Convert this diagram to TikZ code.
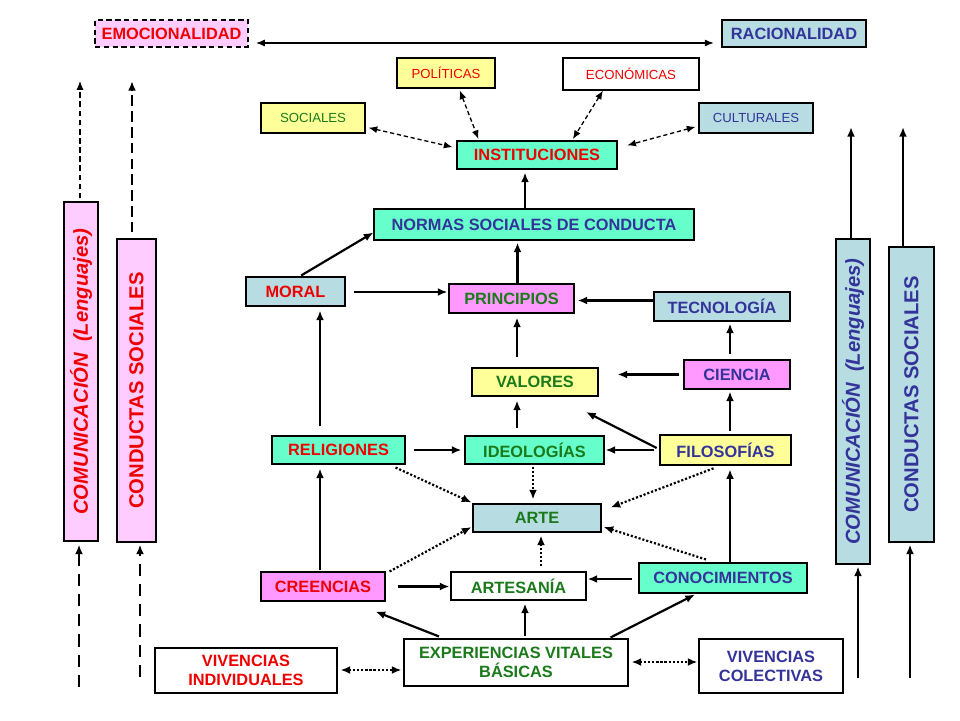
\documentclass[tikz,border=0pt]{standalone}
\usepackage{fontspec}
\setmainfont{Liberation Sans}
\usetikzlibrary{positioning}
\usetikzlibrary{arrows.meta}
\usetikzlibrary{calc}
\definecolor{fillyellow}{HTML}{FFFF99}
\definecolor{fillpink}{HTML}{FF99FF}
\definecolor{fillpinkl}{HTML}{FFCCFF}
\definecolor{fillaqua}{HTML}{66FFCC}
\definecolor{fillblue}{HTML}{B7DDE3}
\definecolor{txtred}{HTML}{EE0000}
\definecolor{txtgreen}{HTML}{1A7A1A}
\definecolor{txtblue}{HTML}{333399}
\tikzset{
    cell/.style = {rectangle, draw=black, line width=0.6pt, inner sep=1pt, align=center, font=\fontsize{9.3}{10.8}\selectfont\bfseries},
    celly/.style = {cell, fill=fillyellow},
    cellp/.style = {cell, fill=fillpink},
    celll/.style = {cell, fill=fillpinkl},
    cella/.style = {cell, fill=fillaqua},
    cellb/.style = {cell, fill=fillblue},
    cellw/.style = {cell, fill=white},
    cellsm/.style = {font=\fontsize{7.5}{9}\selectfont}, % top labels
    cellside/.style = {rotate=90, font=\fontsize{11.5}{13}\selectfont\bfseries},
    sz/.style 2 args = {minimum width=#1*0.02cm, minimum height=#2*0.02cm},
    tred/.style = {text=txtred},
    tgreen/.style = {text=txtgreen},
    tblue/.style = {text=txtblue},
    edgen/.style = {-{Latex[length=5.5pt,width=4.5pt]}, line width=1.25pt},
    edgexd/.style = {edgen, dash pattern=on 1.2pt off 1.1pt}, % dotted
    edgevd/.style = {edgexd, {Latex[length=5.5pt,width=4.5pt]}-{Latex[length=5.5pt,width=4.5pt]}}, % dotted, both ways
    edgegd/.style = {{Latex[length=5pt,width=4pt]}-{Latex[length=5pt,width=4pt]}, line width=0.75pt, dash pattern=on 2.4pt off 1.6pt}, % dashed, both ways
    edgeg/.style = {{Latex[length=5pt,width=4pt]}-{Latex[length=5pt,width=4pt]}, line width=0.65pt},
    edgeld/.style = {-{Latex[length=5pt,width=4pt]}, line width=0.65pt, dash pattern=on 3.2pt off 2pt}, % thin dashes
    edgelD/.style = {-{Latex[length=5.5pt,width=4.5pt]}, line width=1.3pt, dash pattern=on 6pt off 3pt}, % long dashes
    edgelo/.style = {-{Latex[length=5.5pt,width=4.5pt]}, line width=1.3pt, dash pattern=on 7pt off 4.5pt}, % lower dashes
}

\begin{document}
\begin{tikzpicture}[x=0.02cm, y=-0.02cm]
\useasboundingbox (0,0) rectangle (960,720);
%
\node[celll, tred, sz={153}{27}, line width=1.2pt, dash pattern=on 3pt off 2pt] at (171.5,33.5) (emo) {EMOCIONALIDAD};
\node[cellb, tblue, sz={144}{27}, line width=1.5pt] at (794,33.5) (rac) {RACIONALIDAD};
\node[celly, tred, cellsm, sz={98}{30}] at (446,73) (pol) {POLÍTICAS};
\node[cellw, tred, cellsm, sz={136}{32}] at (631,74) (eco) {ECONÓMICAS};
\node[celly, tgreen, cellsm, sz={104}{30}] at (313,118) (soc) {SOCIALES};
\node[cellb, tblue, cellsm, sz={114}{30}] at (756,118) (cul) {CULTURALES};
\node[cella, tred, sz={160}{28}] at (537,155) (inst) {INSTITUCIONES};
\node[cella, tblue, sz={320}{31}] at (534,224.5) (norm) {NORMAS SOCIALES DE CONDUCTA};
\node[cellb, tred, sz={99}{29}] at (295.5,291.5) (moral) {MORAL};
\node[cellp, tgreen, sz={125}{29}] at (511.5,298.5) (prin) {PRINCIPIOS};
\node[cellb, tblue, sz={136}{29}] at (722,306.5) (tec) {TECNOLOGÍA};
\node[celly, tgreen, sz={126}{28}] at (535,382) (val) {VALORES};
\node[cellp, tblue, sz={106}{29}] at (737,374.5) (cie) {CIENCIA};
\node[cella, tred, sz={133}{28}] at (338.5,450) (rel) {RELIGIONES};
\node[cella, tgreen, sz={139}{28}] at (534.5,450) (ideo) {IDEOLOGÍAS};
\node[celly, tblue, sz={131}{30}, line width=1.5pt] at (725.5,450) (filo) {FILOSOFÍAS};
\node[cellb, tgreen, sz={128}{28}] at (537,518) (arte) {ARTE};
\node[cellp, tred, sz={124}{29}] at (323,586.5) (cree) {CREENCIAS};
\node[cellw, tgreen, sz={135}{28}] at (518.5,586) (artes) {ARTESANÍA};
\node[cella, tblue, sz={168}{30}] at (723,578) (cono) {CONOCIMIENTOS};
\node[cellw, tgreen, sz={224}{47}] at (516,662.5) (exp) {EXPERIENCIAS VITALES\\BÁSICAS};
\node[cellw, tred, sz={182}{45}] at (246,670.5) (vind) {VIVENCIAS\\INDIVIDUALES};
\node[cellw, tblue, sz={144}{54}] at (771,666) (vcol) {VIVENCIAS\\COLECTIVAS};
\node[celll, cellside, tred, sz={339}{34}] at (81,371.5) (coml) {\itshape COMUNICACIÓN~~(Lenguajes)};
\node[celll, cellside, tred, sz={303}{39}] at (136.5,390.5) (conl) {CONDUCTAS SOCIALES};
\node[cellb, cellside, tblue, sz={325}{34}] at (853,401.5) (comr) {\itshape COMUNICACIÓN~~(Lenguajes)};
\node[cellb, cellside, tblue, sz={295}{45}] at (911.5,394.5) (conr) {CONDUCTAS SOCIALES};
%
\coordinate (clt) at (80,81);
\coordinate (slt) at (132,81);
\coordinate (crt) at (851,127);
\coordinate (srt) at (903,127);
\coordinate (clb) at (79,687);
\coordinate (slb) at (140,677);
\coordinate (crb) at (858,678);
\coordinate (srb) at (910,678);
\coordinate (fv) at (586,412);
%
\draw[edgeg, shorten <=0.14cm, shorten >=0.14cm] ($(emo.east)+(0,9.5)$) -- ($(rac.west)+(0,9.5)$);
\draw[edgegd, shorten <=0.06cm, shorten >=0.08cm] ($(soc.east)+(0,9)$) -- ($(inst.west)+(0,-7)$);
\draw[edgegd, shorten <=0.04cm, shorten >=0.03cm] ($(pol.south)+(13,0)$) -- ($(inst.north)+(-58,0)$);
\draw[edgegd, shorten >=0.03cm] ($(eco.south)+(-28,0)$) -- ($(inst.north)+(35,0)$);
\draw[edgegd, shorten <=0.06cm, shorten >=0.2cm] ($(cul.west)+(0,8)$) -- ($(inst.east)+(0,-7)$);
\draw[edgen, shorten >=0.06cm] ($(norm.north)+(-9,0)$) coordinate (n1) -- (n1 |- inst.south);
\draw[edgen, shorten <=0.04cm] ($(moral.north)+(4,0)$) -- ($(norm.west)+(0,8)$);
\draw[edgen, shorten <=0.16cm, shorten >=0.02cm] ($(moral.east)+(0,0.5)$) coordinate (m1) -- (m1 -| prin.west);
\draw[edgen, shorten >=0.04cm] ($(prin.north)+(6,0)$) coordinate (p1) -- (p1 |- norm.south);
\draw[edgen, shorten >=0.06cm] ($(tec.west)+(0,-6)$) coordinate (t1) -- (t1 -| prin.east);
\draw[edgen, shorten <=0.2cm, shorten >=0.08cm] ($(val.north)+(-18,0)$) coordinate (v1) -- (v1 |- prin.south);
\draw[edgen, shorten <=0.08cm, shorten >=0.38cm] (cie.west) -- (cie.west -| val.east);
\draw[edgen, shorten <=0.1cm, shorten >=0.04cm] ($(cie.north)+(-7,0)$) coordinate (c1) -- (c1 |- tec.south);
\draw[edgen, shorten <=0.14cm, shorten >=0.08cm] ($(ideo.north)+(-17.5,0)$) coordinate (i1) -- (i1 |- val.south);
\draw[edgen] ($(filo.west)+(-2,-2)$) -- (fv);
\draw[edgen, shorten <=0.16cm, shorten >=0.06cm] (rel.east) -- (ideo.west);
\draw[edgen, shorten <=0.1cm, shorten >=0.02cm] (filo.west) -- (ideo.east);
\draw[edgen, shorten <=0.18cm, shorten >=0.08cm] ($(rel.north)+(-18.5,0)$) coordinate (r1) -- (r1 |- moral.south);
\draw[edgen, shorten <=0.06cm, shorten >=0.04cm] ($(filo.north)+(4.5,0)$) coordinate (f1) -- (f1 |- cie.south);
%
\draw[edgexd] ($(rel.south east)+(-10,3)$) -- ($(arte.north west)+(-1,-1)$);
\draw[edgexd, shorten <=0.04cm, shorten >=0.08cm] ($(ideo.south)+(-1.5,0)$) coordinate (d1) -- (d1 |- arte.north);
\draw[edgexd] ($(filo.south)+(-12,2)$) -- ($(arte.north east)+(9,4)$);
\draw[edgexd] ($(cree.north east)+(4,0)$) -- ($(arte.west)+(-1,9)$);
\draw[edgexd, shorten <=0.1cm, shorten >=0.06cm] ($(artes.north)+(22.5,0)$) coordinate (a1) -- (a1 |- arte.south);
\draw[edgexd] ($(cono.north)+(-17,-3)$) -- ($(arte.east)+(2,9)$);
%
\draw[edgen, shorten <=0.12cm, shorten >=0.02cm] ($(cono.west)+(0,1)$) coordinate (k1) -- (k1 -| artes.east);
\draw[edgen, shorten <=0.24cm, shorten >=0.02cm] (cree.east) -- (cree.east -| artes.west);
\draw[edgen, shorten <=0.02cm, shorten >=0.08cm] ($(cree.north)+(-3,0)$) coordinate (k2) -- (k2 |- rel.south);
\draw[edgen, shorten >=0.06cm] ($(cono.north)+(7,0)$) coordinate (k3) -- (k3 |- filo.south);
\draw[edgen] ($(exp.north)+(-77,-2)$) -- ($(cree.south east)+(-10,10)$);
\draw[edgen, shorten <=0.04cm, shorten >=0.06cm] ($(exp.north)+(9,0)$) coordinate (e1) -- (e1 |- artes.south);
\draw[edgen] ($(exp.north east)+(-18,-1)$) -- ($(cono.south)+(-28,1)$);
\draw[edgevd, shorten <=0.06cm, shorten >=0.04cm] ($(vind.east)+(0,-0.5)$) coordinate (w1) -- (w1 -| exp.west);
\draw[edgevd, shorten <=0.06cm, shorten >=0.02cm] ($(exp.east)+(0,-0.5)$) coordinate (w2) -- (w2 -| vcol.west);
%
\draw[edgeld] ($(coml.east)+(-1,-3)$) -- (clt);
\draw[edgelD] ($(conl.east)+(-4.5,-6)$) -- (slt);
\draw[edgelo, shorten >=0.06cm] (clb) -- (clb |- coml.west);
\draw[edgelo, shorten >=0.04cm] (slb) -- (slb |- conl.west);
\draw[edgen] ($(comr.east)+(-2,0)$) -- (crt);
\draw[edgen] ($(conr.east)+(-8.5,0)$) -- (srt);
\draw[edgen, shorten >=0.04cm] (crb) -- (crb |- comr.west);
\draw[edgen, shorten >=0.04cm] (srb) -- (srb |- conr.west);
\end{tikzpicture}
\end{document}
